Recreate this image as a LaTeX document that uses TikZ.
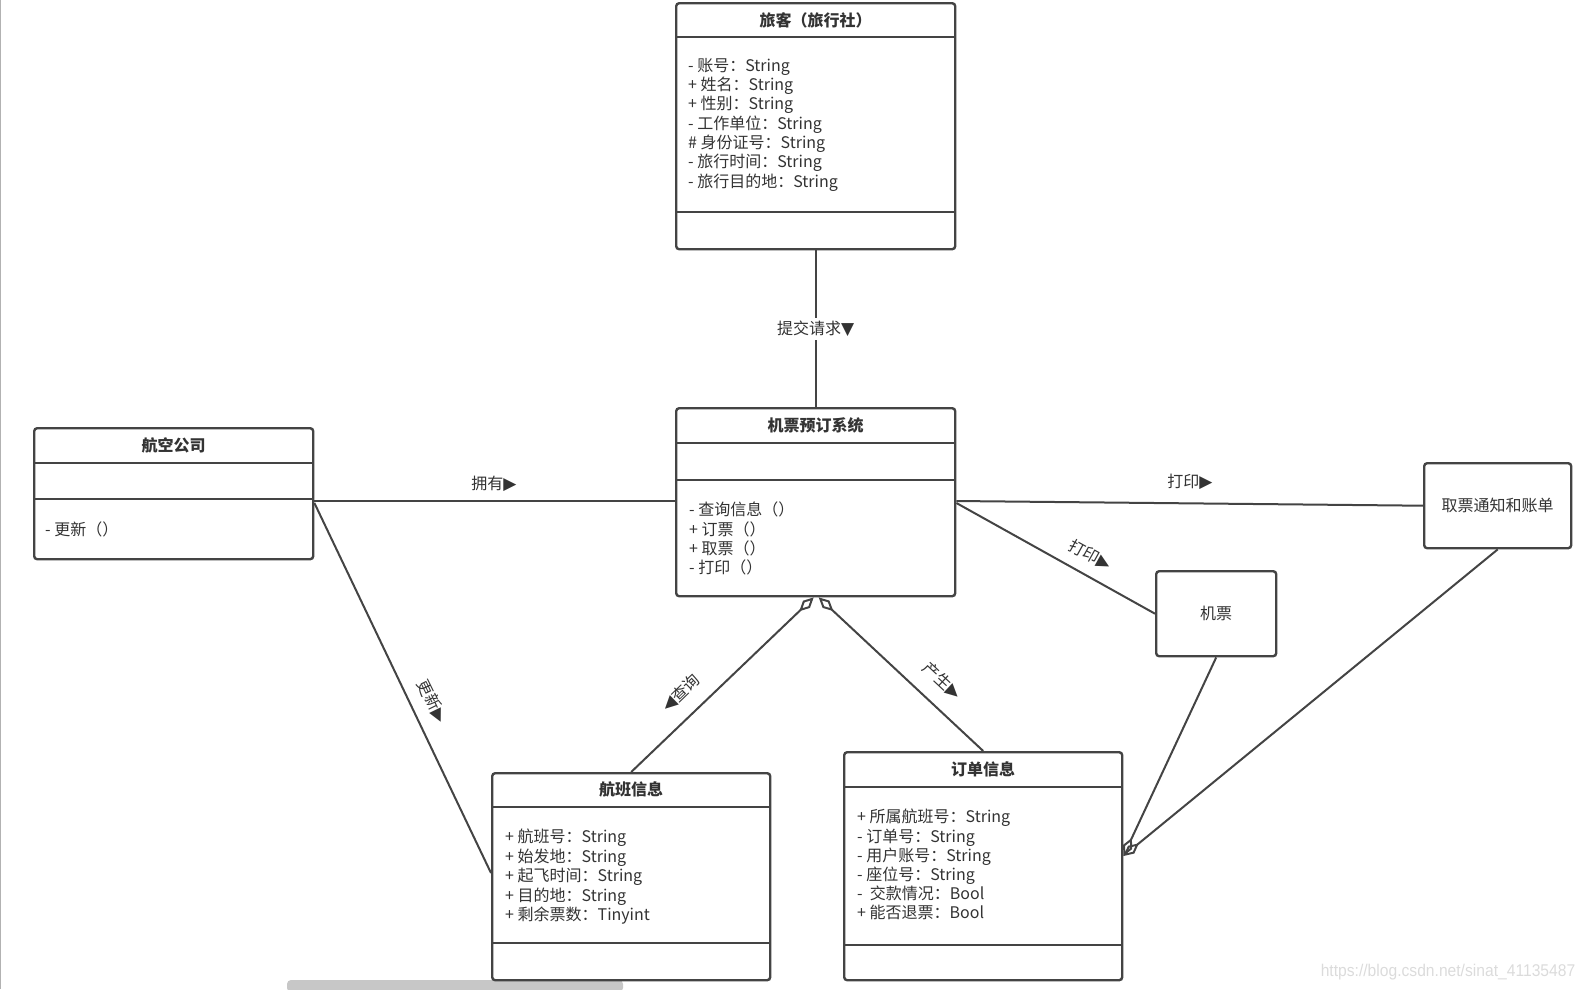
\documentclass[tikz,border=0pt]{standalone}
\usepackage{fontspec}
\setmainfont{Noto Sans CJK SC}
\newfontfamily\symfont{DejaVu Sans}
\newfontfamily\urlfont{Liberation Sans}
\usetikzlibrary{calc,arrows.meta}
\definecolor{ink}{HTML}{333333}
\definecolor{edge}{HTML}{444444}
% direction triangle used in association labels
\newcommand{\tri}[1]{{\symfont\fontsize{17}{17}\selectfont #1}}

\begin{document}
\begin{tikzpicture}[x=1pt,y=-1pt,
  box/.style={draw=edge, line width=2.4pt, rounded corners=3pt, fill=white,
    inner sep=0pt, anchor=north west, text=ink, font=\fontsize{16}{18}\selectfont},
  sep/.style={draw=edge, line width=2.4pt},
  ctitle/.style={font=\fontsize{16}{19}\selectfont\bfseries, text=ink, inner sep=0pt},
  attrs/.style={font=\fontsize{16}{19.3}\selectfont, text=ink, align=left,
    anchor=north west, inner sep=0pt},
  assoc/.style={draw=edge, line width=2pt},
  agg/.style={assoc, {Diamond[open, length=20pt, width=10pt]}-},
  aggend/.style={assoc, -{Diamond[open, length=20pt, width=10pt]}},
  elabel/.style={font=\fontsize{16}{18}\selectfont, text=ink, inner sep=1pt}
]
\useasboundingbox (0,0) rectangle (1588,989);

% window frame remnants
\draw[black!30, line width=1pt] (0.5,0) -- (0.5,989);
\fill[black!22, rounded corners=4pt] (287,980) rectangle (623,992);

% ---------- class: traveller ----------
\node[box, minimum width=279pt, minimum height=246pt] (trav) at (675,2) {};
\node[ctitle] (travT) at ($(trav.north)+(0,18)$) {旅客（旅行社）};
\draw[sep] ($(trav.north west)+(0,35)$) -- ($(trav.north east)+(0,35)$);
\draw[sep] ($(trav.north west)+(0,210)$) -- ($(trav.north east)+(0,210)$);
\node[attrs] (travA) at (688,58) {- 账号：String\\+ 姓名：String\\+ 性别：String\\- 工作单位：String\\\# 身份证号：String\\- 旅行时间：String\\- 旅行目的地：String};

% ---------- class: booking system ----------
\node[box, minimum width=279pt, minimum height=188pt] (sys) at (675,407) {};
\node[ctitle] (sysT) at ($(sys.north)+(0,18)$) {机票预订系统};
\draw[sep] ($(sys.north west)+(0,36)$) -- ($(sys.north east)+(0,36)$);
\draw[sep] ($(sys.north west)+(0,73)$) -- ($(sys.north east)+(0,73)$);
\node[attrs] (sysM) at (689,502) {- 查询信息（）\\+ 订票（）\\+ 取票（）\\- 打印（）};

% ---------- class: airline ----------
\node[box, minimum width=279pt, minimum height=131pt] (air) at (33,427) {};
\node[ctitle] (airT) at ($(air.north)+(0,18)$) {航空公司};
\draw[sep] ($(air.north west)+(0,36)$) -- ($(air.north east)+(0,36)$);
\draw[sep] ($(air.north west)+(0,72)$) -- ($(air.north east)+(0,72)$);
\node[attrs] (airM) at (45,522) {- 更新（）};

% ---------- class: flight info ----------
\node[box, minimum width=278pt, minimum height=207pt] (flight) at (491,772) {};
\node[ctitle] (flightT) at ($(flight.north)+(0,17.5)$) {航班信息};
\draw[sep] ($(flight.north west)+(0,35)$) -- ($(flight.north east)+(0,35)$);
\draw[sep] ($(flight.north west)+(0,171)$) -- ($(flight.north east)+(0,171)$);
\node[attrs, font=\fontsize{16}{19.5}\selectfont] (flightA) at (505,829) {+ 航班号：String\\+ 始发地：String\\+ 起飞时间：String\\+ 目的地：String\\+ 剩余票数：Tinyint};

% ---------- class: order info ----------
\node[box, minimum width=278pt, minimum height=228pt] (order) at (843,751) {};
\node[ctitle] (orderT) at ($(order.north)+(0,18)$) {订单信息};
\draw[sep] ($(order.north west)+(0,36)$) -- ($(order.north east)+(0,36)$);
\draw[sep] ($(order.north west)+(0,194)$) -- ($(order.north east)+(0,194)$);
\node[attrs, font=\fontsize{16}{19.2}\selectfont] (orderA) at (857,809) {+ 所属航班号：String\\- 订单号：String\\- 用户账号：String\\- 座位号：String\\-\ \ 交款情况：Bool\\+ 能否退票：Bool};

% ---------- plain objects ----------
\node[box, minimum width=147pt, minimum height=85pt] (notice) at (1423,462) {取票通知和账单};
\node[box, minimum width=120pt, minimum height=85pt] (ticket) at (1155,570) {机票};

% ---------- associations ----------
\draw[assoc] (trav.south) -- (sys.north)
  node[elabel, midway, fill=white, inner sep=3pt] (lsub) {提交请求\tri{▼}};

\draw[assoc] ($(air.north east)+(0,74)$) -- ($(sys.north west)+(0,94)$);
\node[elabel] (lown) at (494,484) {拥有\tri{▶}};

\draw[assoc] ($(air.north east)+(0,76)$) -- ($(flight.north west)+(0,101)$);
\node[elabel, rotate=-64] (lupd) at (432,701) {更新\tri{▶}};

\draw[assoc] ($(sys.north east)+(0,94)$) -- (notice.west);
\node[elabel] (lprn1) at (1190,482) {打印\tri{▶}};

\draw[assoc] ($(sys.north east)+(0,96)$) -- (ticket.west);
\node[elabel, rotate=-29] (lprn2) at (1090,555) {打印\tri{▶}};

\draw[agg] ($(sys.south)+(-2,0)$) -- (flight.north);
\node[elabel, rotate=44] (lqry) at (681,693) {\tri{◀}查询};

\draw[agg] ($(sys.south)+(3,0)$) -- (order.north);
\node[elabel, rotate=-43] (lgen) at (942,681) {产生\tri{▶}};

\draw[aggend] (ticket.south) -- ($(order.north east)+(0,105)$);
\draw[aggend] (notice.south) -- ($(order.north east)+(0,105)$);

% ---------- watermark ----------
\node[font=\urlfont\fontsize{17}{17}\selectfont, text=black!14, xscale=0.92] (wm) at (1448,972) {https://blog.csdn.net/sinat\_41135487};
\end{tikzpicture}
\end{document}
